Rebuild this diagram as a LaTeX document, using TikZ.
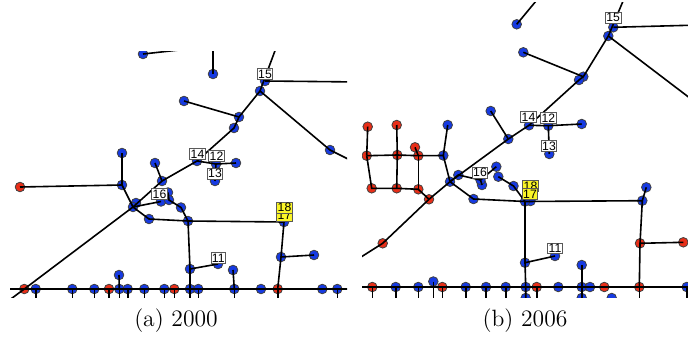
\documentclass[tikz,border=0pt]{standalone}
\usepackage{fontspec}
\newfontfamily\lblfont{Liberation Sans}
\definecolor{nblue}{RGB}{22,58,226}
\definecolor{nred}{RGB}{232,46,24}
\definecolor{lblyel}{RGB}{250,245,40}
\tikzset{
  bn/.style={circle, fill=nblue, draw=black!75, line width=0.4pt, inner sep=0pt, minimum size=4.8pt},
  rn/.style={bn, fill=nred},
  lnk/.style={line width=0.8pt, black},
  lbl/.style={draw=black!65, fill=white, line width=0.4pt, inner xsep=0.5pt, inner ysep=0.5pt,
              text height=4.4pt, text depth=0pt, font=\lblfont\fontsize{6.1}{6.1}\selectfont},
  ylbl/.style={lbl, fill=lblyel},
  captxt/.style={inner sep=0pt, font=\fontsize{11.8}{14}\selectfont}
}
\begin{document}
\begin{tikzpicture}[x=0.5pt,y=-0.5pt]
\useasboundingbox (0,0) rectangle (688,337);

% ---------------- left network ----------------
\begin{scope}
\clip (10,51) rectangle (347,297.5);
\coordinate (aT1) at (200,47.7);
\coordinate (aT2) at (213,40);
\coordinate (aT3) at (279,40);
\coordinate (aR1) at (360,82);
\coordinate (aR2) at (370,170);
\coordinate (aL1) at (0,289);
\coordinate (aL2) at (0,307);
\coordinate (aR3) at (360,289);
\coordinate (aBot) at (0,310);

\node[bn] (a1) at (143,54) {};
\node[bn] (a2) at (213,74) {};
\node[bn] (a15) at (265,81) {};
\node[bn] (a3) at (260,91) {};
\node[bn] (a4) at (330,150) {};
\node[bn] (a5) at (184,101) {};
\node[bn] (a6) at (239,117) {};
\node[bn] (a7) at (234,128) {};
\node[bn] (a14) at (197,161) {};
\node[bn] (a12) at (216,164) {};
\node[bn] (a10) at (236,163) {};
\node[bn] (a13) at (215,181) {};
\node[bn] (a8) at (162,181) {};
\node[bn] (a30) at (155,163) {};
\node[bn] (a31) at (122,153) {};
\node[bn] (a32) at (122,185) {};
\node[rn] (a33) at (20,187) {};
\node[bn] (aJb) at (136,203) {};
\node[bn] (aJ) at (133,207) {};
\node[bn] (a19) at (168,192.5) {};
\node[bn] (a16) at (161,201.5) {};
\node[bn] (a20) at (169,200) {};
\node[bn] (a21) at (181,207.5) {};
\node[bn] (a23) at (149,219) {};
\node[bn] (a22) at (188,221) {};
\node[bn] (a24) at (284,222) {};
\node[bn] (a25) at (190,269) {};
\node[bn] (a11) at (218,264) {};
\node[bn] (a26) at (233,270) {};
\node[bn] (a27) at (281,257) {};
\node[bn] (a28) at (314,255) {};
\node[bn] (a29) at (119,275) {};
\foreach \x/\s/\n in {24.3/rn/0, 35.7/bn/1, 72.3/bn/2, 94.3/bn/3, 109/rn/4, 119.3/bn/5,
    127.7/bn/6, 144.3/bn/7, 164.3/bn/8, 174.3/rn/9, 190/bn/10, 198.3/bn/11, 234.3/bn/12,
    261/bn/13, 277.7/rn/14, 322.3/bn/15, 337.3/bn/16}
  \node[\s] (ab\n) at (\x,289) {};

% connectors
\draw[lnk] (a1.center) -- (aT1);
\draw[lnk] (a2.center) -- (aT2);
\draw[lnk] (a3.center) -- (aT3);
\draw[lnk] (a15.center) -- (aR1);
\draw[lnk] (a3.center) -- (a4.center) -- (aR2);
\draw[lnk] (a5.center) -- (a6.center);
\draw[lnk] (a3.center) -- (a6.center) -- (a7.center) -- (a14.center) -- (a8.center)
           -- (aJ.center) -- (ab0.center) -- (aL2);
\draw[lnk] (a14.center) -- (a12.center) -- (a10.center);
\draw[lnk] (a12.center) -- (a13.center);
\draw[lnk] (a30.center) -- (a8.center);
\draw[lnk] (a31.center) -- (a32.center) -- (a33.center);
\draw[lnk] (a32.center) -- (aJ.center) -- (a16.center);
\draw[lnk] (a19.center) -- (a20.center) -- (a21.center) -- (a22.center);
\draw[lnk] (aJ.center) -- (a23.center) -- (a22.center) -- (a24.center);
\draw[lnk] (a22.center) -- (a25.center) -- (ab10.center);
\draw[lnk] (a25.center) -- (a11.center);
\draw[lnk] (a26.center) -- (ab12.center);
\draw[lnk] (a24.center) -- (a27.center) -- (ab14.center);
\draw[lnk] (a27.center) -- (a28.center);
\draw[lnk] (a29.center) -- (ab5.center);
\draw[lnk] (aL1) foreach \n in {0,...,16}{ -- (ab\n.center)} -- (aR3);
\foreach \n in {1,2,3,4,5,6,7,8,9,10,11,12,14,16}
  \draw[lnk] (ab\n.center) -- (ab\n.center |- aBot);

% labels
\node[lbl] (la15) at (265,74) {15};
\node[lbl] (la14) at (197.5,154) {14};
\node[lbl] (la12) at (216.5,156) {12};
\node[lbl] (la13) at (215,173.5) {13};
\node[lbl] (la16) at (159.5,193.8) {16};
\node[lbl] (la11) at (218.3,257.7) {11};
\node[ylbl] (la17) at (284.5,215.5) {17};
\node[ylbl] (la18) at (284.5,207.5) {18};
\end{scope}

% ---------------- right network ----------------
\begin{scope}
\clip (362,2) rectangle (688,297.5);
\coordinate (bT1) at (541,-5);
\coordinate (bT2) at (625.6,-5);
\coordinate (bR1) at (700,25);
\coordinate (bR2) at (720,121);
\coordinate (bL1) at (350,264);
\coordinate (bL2) at (350,287);
\coordinate (bR3) at (700,287);
\coordinate (bBot) at (0,310);

\node[bn] (b1) at (516.7,24.3) {};
\node[bn] (b15) at (613.3,27.3) {};
\node[bn] (b2) at (608.3,36) {};
\node[bn] (b3) at (523.3,52.3) {};
\node[bn] (b4) at (583.3,76.7) {};
\node[bn] (b5) at (579,80) {};
\node[bn] (b14) at (529,125.3) {};
\node[bn] (b12) at (548.3,125.7) {};
\node[bn] (b10) at (581.7,124) {};
\node[bn] (b13) at (549.3,154) {};
\node[bn] (b7) at (490.7,111) {};
\node[bn] (b6) at (508.3,139) {};
\node[rn] (br1) at (367.7,126.7) {};
\node[rn] (br2) at (396.7,125) {};
\node[bn] (bg1) at (447.7,125) {};
\node[rn] (br3) at (366.7,155.7) {};
\node[rn] (br4) at (397.3,155) {};
\node[rn] (br6) at (415,147.3) {};
\node[rn] (br5) at (418.3,155.7) {};
\node[bn] (bg2) at (443.3,155.5) {};
\node[rn] (br7) at (371.7,188.3) {};
\node[rn] (br8) at (396.7,188.3) {};
\node[rn] (br9) at (418.3,189.3) {};
\node[rn] (br10) at (429,199.3) {};
\node[rn] (br11) at (382.7,243.3) {};
\node[bn] (bJ) at (450,181.7) {};
\node[bn] (b8) at (458.3,175) {};
\node[bn] (b16b) at (482,185) {};
\node[bn] (b16) at (480.5,180) {};
\node[bn] (b17) at (496.3,166.7) {};
\node[bn] (b18) at (498.3,176.7) {};
\node[bn] (b19) at (513.5,186) {};
\node[bn] (b20) at (473.5,199) {};
\node[bn] (b24b) at (530.5,201) {};
\node[bn] (b24) at (525,201.5) {};
\node[bn] (b25) at (642.3,200.7) {};
\node[bn] (b26) at (646.3,187.3) {};
\node[rn] (b27) at (640,243.3) {};
\node[rn] (b28) at (683.3,242.3) {};
\node[bn] (b29) at (525,262.7) {};
\node[bn] (b11) at (555,256) {};
\node[bn] (b30) at (581.7,265) {};
\node[bn] (b31) at (433.3,281.5) {};
\node[bn] (bd1) at (525.7,298) {};
\node[bn] (bd2) at (581.7,298) {};
\node[bn] (bd3) at (611.7,298) {};
\foreach \x/\s/\n in {372.3/rn/0, 395.7/bn/1, 418.3/bn/2, 442.3/rn/3, 465.7/bn/4, 486/bn/5,
    505.7/bn/6, 525.7/bn/7, 536.7/rn/8, 558.3/bn/9, 581.7/bn/10, 590/bn/11, 604.3/rn/12,
    639.3/rn/13, 686.7/bn/14}
  \node[\s] (bb\n) at (\x,287) {};

% connectors
\draw[lnk] (b1.center) -- (bT1);
\draw[lnk] (b15.center) -- (bR1);
\draw[lnk] (b2.center) -- (bT2);
\draw[lnk] (b2.center) -- (bR2);
\draw[lnk] (b3.center) -- (b4.center);
\draw[lnk] (b2.center) -- (b4.center) -- (b5.center) -- (b14.center) -- (b6.center)
           -- (bJ.center) -- (br10.center) -- (br11.center) -- (bL1);
\draw[lnk] (b14.center) -- (b12.center) -- (b10.center);
\draw[lnk] (b12.center) -- (b13.center);
\draw[lnk] (b7.center) -- (b6.center);
\draw[lnk] (br1.center) -- (br3.center);
\draw[lnk] (br2.center) -- (br4.center);
\draw[lnk] (bg1.center) -- (bg2.center);
\draw[lnk] (br3.center) -- (br4.center) -- (br5.center) -- (bg2.center) -- (bJ.center);
\draw[lnk] (br6.center) -- (br5.center);
\draw[lnk] (br3.center) -- (br7.center) -- (br8.center) -- (br9.center) -- (br10.center);
\draw[lnk] (br4.center) -- (br8.center);
\draw[lnk] (br5.center) -- (br9.center);
\draw[lnk] (bJ.center) -- (b8.center) -- (b16.center) -- (b17.center);
\draw[lnk] (b16.center) -- (b16b.center);
\draw[lnk] (b18.center) -- (b19.center) -- (b24.center);
\draw[lnk] (bJ.center) -- (b20.center) -- (b24.center) -- (b25.center) -- (b26.center);
\draw[lnk] (b25.center) -- (b27.center) -- (b28.center);
\draw[lnk] (b27.center) -- (bb13.center);
\draw[lnk] (b24.center) -- (b29.center) -- (bb7.center) -- (bd1.center);
\draw[lnk] (b29.center) -- (b11.center);
\draw[lnk] (b30.center) -- (bb10.center) -- (bd2.center);
\draw[lnk] (b31.center) -- (b31.center |- bBot);
\draw[lnk] (bL2) foreach \n in {0,...,14}{ -- (bb\n.center)} -- (bR3);
\foreach \n in {0,1,2,3,4,5,6,8,13,14}
  \draw[lnk] (bb\n.center) -- (bb\n.center |- bBot);

% labels
\node[lbl] (lb15) at (613.2,17.5) {15};
\node[lbl] (lb14) at (528.5,117) {14};
\node[lbl] (lb12) at (548.3,118) {12};
\node[lbl] (lb13) at (549,146) {13};
\node[lbl] (lb16) at (480,172.5) {16};
\node[lbl] (lb11) at (555,248.3) {11};
\node[ylbl] (lb18) at (530.5,186) {18};
\node[ylbl] (lb17) at (530,194.2) {17};
\end{scope}

% captions
\node[captxt] (capa) at (176,321) {(a) 2000};
\node[captxt] (capb) at (525,321) {(b) 2006};
\end{tikzpicture}
\end{document}
